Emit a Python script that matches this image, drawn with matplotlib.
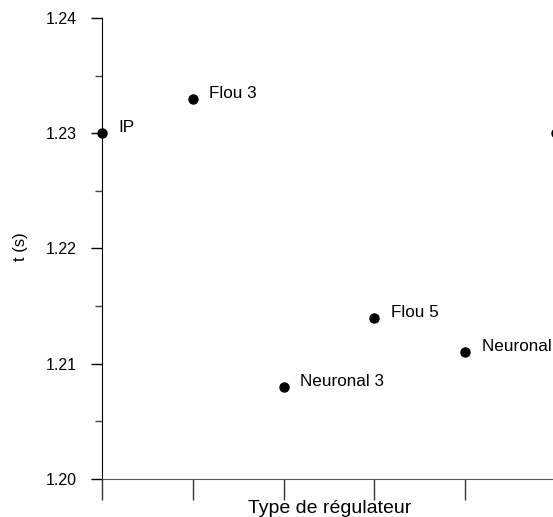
import numpy as np
import matplotlib
matplotlib.use("Agg")
import matplotlib.pyplot as plt
from matplotlib.ticker import MultipleLocator

# data
positions = [0, 1, 2, 3, 4, 5]
temps = [1.230, 1.233, 1.208, 1.214, 1.211, 1.230]
labels = ["IP", "Flou 3", "Neuronal 3", "Flou 5", "Neuronal 5", ""]

plt.rcParams['font.family'] = ['Liberation Sans', 'DejaVu Sans']

fig = plt.figure(figsize=(5.53, 5.17), dpi=100)
# axes runs off the right edge, like the reference
ax = fig.add_axes([102 / 553, 38 / 517, 454 / 553, 461 / 517])

ax.plot(positions, temps, 'o', color='black', markersize=6.5, clip_on=False, zorder=3)
for x, y, lab in zip(positions, temps, labels):
  if lab:
    ax.annotate(lab, (x, y), xytext=(12, 4), textcoords='offset points',
                va='center', ha='left', fontsize=12.3, annotation_clip=False)

ax.set_xlim(0, 5)
ax.set_ylim(1.20, 1.24)

ax.spines['top'].set_visible(False)
ax.spines['right'].set_visible(False)
ax.spines['bottom'].set_color('#555555')
ax.spines['left'].set_color('black')

ax.yaxis.set_major_locator(MultipleLocator(0.01))
ax.yaxis.set_minor_locator(MultipleLocator(0.005))
ax.yaxis.set_major_formatter(plt.FormatStrFormatter('%.2f'))
ax.tick_params(axis='y', which='major', length=8, width=1, direction='out', labelsize=11.5, pad=10)
ax.tick_params(axis='y', which='minor', length=5, width=1, color='#444444')

ax.set_xticks(positions)
ax.set_xticklabels([])
ax.tick_params(axis='x', which='major', length=15, width=1, color='#333333')

ax.set_xlabel("Type de régulateur", fontsize=14)
ax.set_ylabel("t (s)", fontsize=12)
ax.xaxis.set_label_coords(228 / 454, -21 / 461)
ax.yaxis.set_label_coords(-74 / 454, 0.505)

fig.savefig("out.png", dpi=100)
